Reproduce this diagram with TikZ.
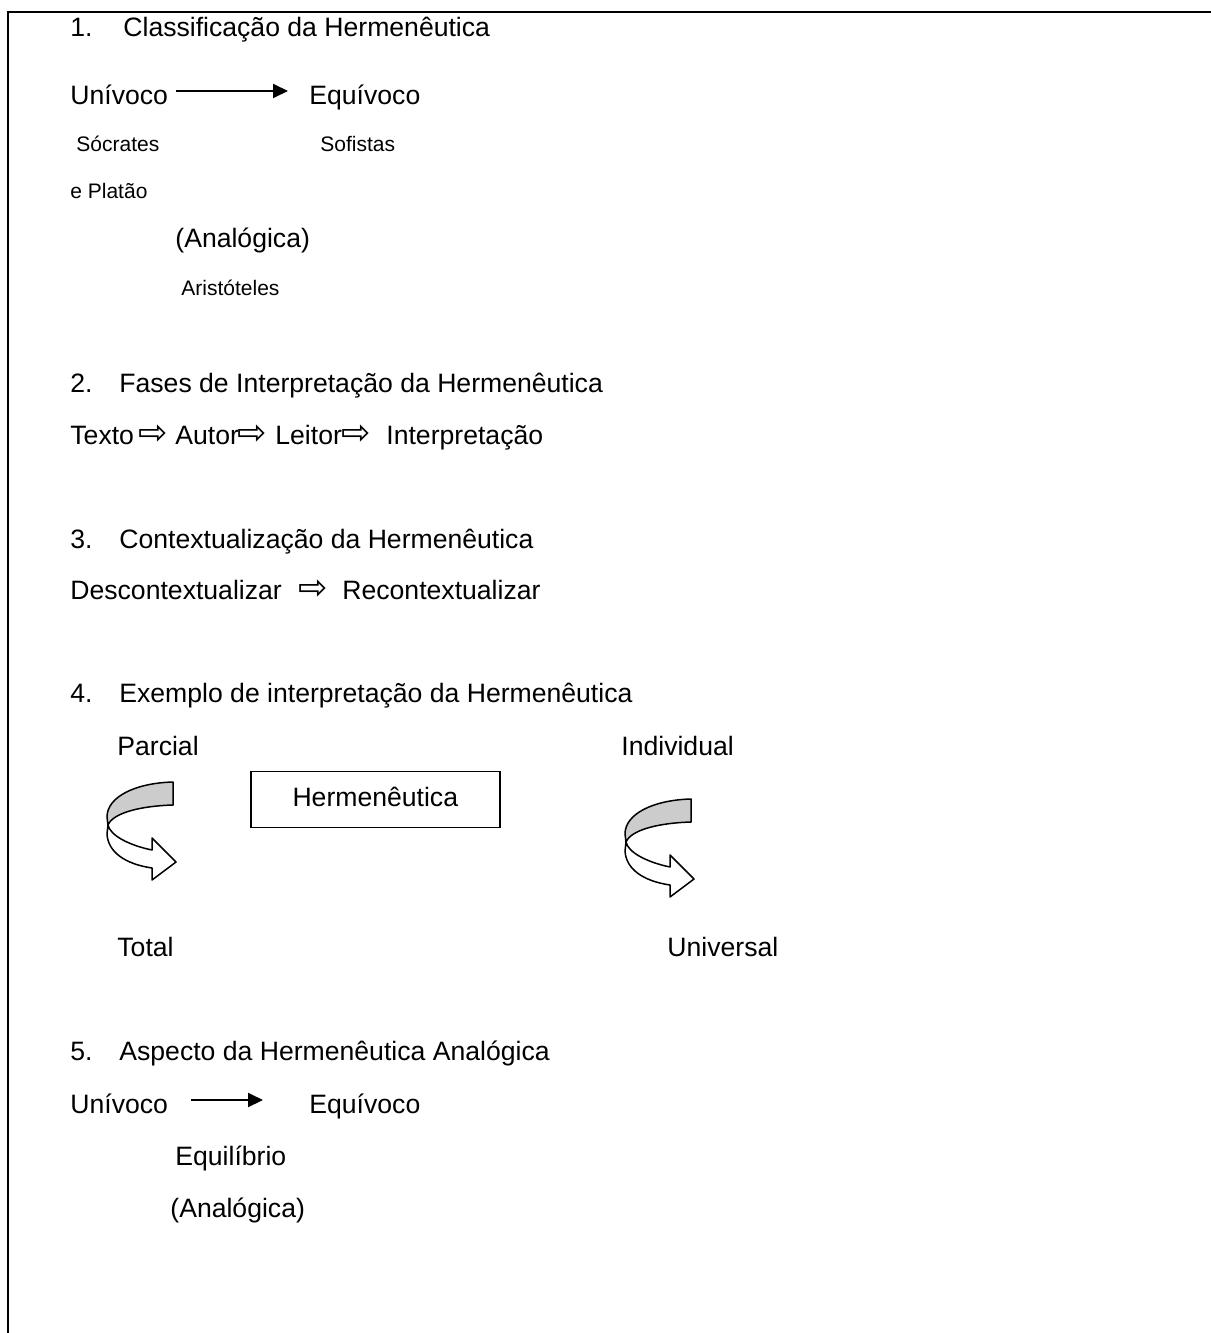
\documentclass[tikz,border=0pt]{standalone}
\usepackage{fontspec}
\setmainfont{Liberation Sans}
\newfontfamily\dejavu{DejaVu Sans}
\usetikzlibrary{arrows.meta}
\tikzset{
  big/.style={anchor=base west, inner sep=0pt, font=\fontsize{13.3}{16}\selectfont},
  small/.style={anchor=base west, inner sep=0pt, font=\fontsize{10.5}{12.6}\selectfont},
  harr/.style={anchor=base, inner sep=0pt, font=\dejavu\fontsize{17.5}{20}\selectfont},
  arr/.style={line width=1pt, -{Triangle[length=7.5pt,width=7pt]}},
  curl/.style={line width=0.75pt, line join=round},
  hbox/.style={draw, line width=0.75pt, inner sep=0pt, minimum width=124.5pt, minimum height=27.8pt,
    text height=9pt, text depth=2.5pt, font=\fontsize{13.3}{16}\selectfont},
  curlarrow/.pic={
    \draw[curl, fill=white] (-65,43) -- (-66,52) .. controls (-65,70) and (-48,82) .. (-21,86)
      -- (-21,98) -- (3,80) -- (-21,56) -- (-21,68) .. controls (-45,63) and (-63,53) .. cycle;
    \draw[curl, fill=gray!40] (0,0) -- (0,23) .. controls (-33,24) and (-60,31) .. (-65,43)
      -- (-66,35) .. controls (-66,15) and (-38,1) .. cycle;
  }
}
\begin{document}
\begin{tikzpicture}[x=0.5pt,y=-0.5pt]
\useasboundingbox (0,0) rectangle (1210,1333);
\draw[line width=1pt] (8,1345) -- (8,12) -- (1215,12);

% Section 1
\node[big] (h1n) at (70,36) {1.};
\node[big] (h1) at (123,36) {Classificação da Hermenêutica};
\node[big] (u1) at (70,104) {Unívoco};
\node[big] (e1) at (309,104) {Equívoco};
\draw[arr] ([shift={(8,-13)}]u1.base east) -- ([shift={(-21,-13)}]e1.base west);
\node[small] (s1) at (76,151) {Sócrates};
\node[small] (s2) at (320,151) {Sofistas};
\node[small] (s3) at (70,198) {e Platão};
\node[big] (a1) at (175,247) {(Analógica)};
\node[small] (a2) at (181,295) {Aristóteles};

% Section 2
\node[big] (h2n) at (70,392) {2.};
\node[big] (h2) at (119,392) {Fases de Interpretação da Hermenêutica};
\node[big] (t1) at (70,444) {Texto};
\node[harr] (ta1) at (153.5,444) {⇨};
\node[big] (t2) at (175,444) {Autor};
\node[harr] (ta2) at (252,444) {⇨};
\node[big] (t3) at (275,444) {Leitor};
\node[harr] (ta3) at (356,444) {⇨};
\node[big] (t4) at (386,444) {Interpretação};

% Section 3
\node[big] (h3n) at (70,548) {3.};
\node[big] (h3) at (119,548) {Contextualização da Hermenêutica};
\node[big] (d1) at (70,599) {Descontextualizar};
\node[harr] (da) at (313.5,599) {⇨};
\node[big] (d2) at (342,599) {Recontextualizar};

% Section 4
\node[big] (h4n) at (70,702) {4.};
\node[big] (h4) at (119,702) {Exemplo de interpretação da Hermenêutica};
\node[big] (p1) at (117,755) {Parcial};
\node[big] (i1) at (621,755) {Individual};
\node[hbox] (hb) at (375.3,799.5) {Hermenêutica};
\pic at (173,782) {curlarrow};
\pic at (691,799) {curlarrow};
\node[big] (tt) at (117,956) {Total};
\node[big] (uu) at (667,956) {Universal};

% Section 5
\node[big] (h5n) at (70,1060) {5.};
\node[big] (h5) at (119,1060) {Aspecto da Hermenêutica Analógica};
\node[big] (u5) at (70,1113) {Unívoco};
\node[big] (e5) at (309,1113) {Equívoco};
\draw[arr] ([shift={(23,-13)}]u5.base east) -- ([shift={(-46,-13)}]e5.base west);
\node[big] (q5) at (175,1165) {Equilíbrio};
\node[big] (a5) at (170,1217) {(Analógica)};
\end{tikzpicture}
\end{document}
